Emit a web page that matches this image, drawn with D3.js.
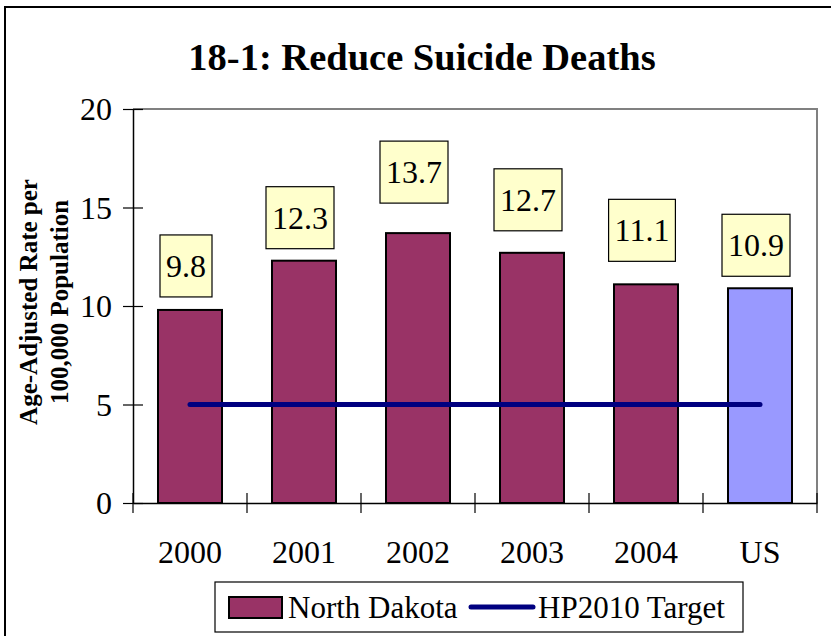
<!DOCTYPE html>
<html><head><meta charset="utf-8">
<script src="https://cdn.jsdelivr.net/npm/d3@7/dist/d3.min.js"></script>
<style>body{margin:0;background:#fff}svg{display:block}svg text{font-family:"Liberation Serif","Times New Roman",Times,serif !important}</style>
</head><body><svg id="c" width="831" height="636" font-family="Liberation Serif"></svg>
<script>
const categories = ["2000","2001","2002","2003","2004","US"];
const rates = [9.8, 12.3, 13.7, 12.7, 11.1, 10.9];
const targetValues = [5, 5, 5, 5, 5, 5];
const yTicks = [0, 5, 10, 15, 20];
const labelGaps = [13, 12, 30, 22, 23, 12];
const titleText = "18-1: Reduce Suicide Deaths";
const yTitleLines = ["Age-Adjusted Rate per", "100,000 Population"];
const legendLabels = ["North Dakota", "HP2010 Target"];

const svg = d3.select("#c");
const M = {left:133, right:817, top:109, bottom:503};
const x = d3.scaleBand().domain(categories).range([M.left, M.right]).paddingInner(50/114).paddingOuter(25/114);
const xc = d3.scalePoint().domain(categories).range([M.left+57, M.right-57]);
const y = d3.scaleLinear().domain([0,20]).range([M.bottom, M.top]);

// outer border
svg.append("rect").attr("x",5).attr("y",7).attr("width",900).attr("height",700)
  .attr("fill","none").attr("stroke","#000").attr("stroke-width",2);

// title
svg.append("text").attr("x",422).attr("y",70).attr("text-anchor","middle")
  .attr("font-size",38.5).attr("font-weight","bold").text(titleText);

// plot frame (top/right gray)
svg.append("path").attr("d",`M${M.left},${M.top}H${M.right}V${M.bottom}`)
  .attr("fill","none").attr("stroke","#808080").attr("stroke-width",2);

// bars
svg.selectAll("rect.bar").data(rates).join("rect").attr("class","bar")
  .attr("x",(d,i)=>x(categories[i])).attr("width",x.bandwidth())
  .attr("y",d=>y(d)).attr("height",d=>y(0)-y(d))
  .attr("fill",(d,i)=>categories[i]==="US"?"#9999FF":"#993366")
  .attr("stroke","#000").attr("stroke-width",2);

// target line
svg.append("path").datum(targetValues)
  .attr("d", d3.line().x((d,i)=>xc(categories[i])).y(d=>y(d)))
  .attr("fill","none").attr("stroke","#000080").attr("stroke-width",5).attr("stroke-linecap","round");

// y axis
const yAxis = svg.append("g").attr("transform",`translate(${M.left},0)`)
  .call(d3.axisLeft(y).tickValues(yTicks).tickSize(10).tickPadding(12).tickSizeOuter(0));
yAxis.attr("font-family",null);
yAxis.select(".domain").attr("stroke","#000").attr("stroke-width",1.5);
yAxis.selectAll(".tick line").attr("x2",10).attr("x1",-10).attr("stroke","#000").attr("stroke-width",1.2);
yAxis.selectAll(".tick text").attr("font-size",32).attr("fill","#000").attr("dy","0.34em").attr("x",-21);

// x axis
const xAxis = svg.append("g").attr("transform",`translate(0,${M.bottom})`)
  .call(d3.axisBottom(x).tickSize(0).tickPadding(0));
xAxis.attr("font-family",null);
xAxis.select(".domain").attr("stroke","#000").attr("stroke-width",1.5);
xAxis.selectAll(".tick text").attr("font-size",32).attr("fill","#000").attr("y",60).attr("dy",0);
const bounds = d3.range(categories.length+1).map(i=>M.left + i*(M.right-M.left)/categories.length);
svg.append("g").selectAll("line").data(bounds).join("line")
  .attr("x1",d=>d).attr("x2",d=>d).attr("y1",M.bottom-10).attr("y2",M.bottom+10)
  .attr("stroke","#000").attr("stroke-width",1.2);

// data labels
const lab = svg.append("g");
rates.forEach((v,i)=>{
  const g = lab.append("g");
  const cx = xc(categories[i]) - 4;
  const bottom = y(v) - labelGaps[i];
  const t = g.append("text").attr("text-anchor","middle").attr("font-size",32).text(v.toFixed(1));
  const w = t.node().getComputedTextLength() + 12;
  const h = 62;
  g.insert("rect","text").attr("x",cx-w/2).attr("y",bottom-h).attr("width",w).attr("height",h)
    .attr("fill","#FFFFCC").attr("stroke","#000").attr("stroke-width",1.2);
  t.attr("x",cx).attr("y",bottom-h/2+11);
});

// y title
const yt = svg.append("text").attr("transform","translate(37,302) rotate(-90)")
  .attr("text-anchor","middle").attr("font-size",25).attr("font-weight","bold");
yTitleLines.forEach((l,i)=>yt.append("tspan").attr("x",0).attr("dy",i?31:0).text(l));

// legend
const lg = svg.append("g");
lg.append("rect").attr("x",215).attr("y",582).attr("width",528).attr("height",50)
  .attr("fill","#fff").attr("stroke","#000").attr("stroke-width",1.2);
lg.append("rect").attr("x",229).attr("y",597).attr("width",53).attr("height",21)
  .attr("fill","#993366").attr("stroke","#000").attr("stroke-width",2);
lg.append("text").attr("x",288).attr("y",618).attr("font-size",31).text(legendLabels[0]);
lg.append("line").attr("x1",471).attr("x2",533).attr("y1",607).attr("y2",607)
  .attr("stroke","#000080").attr("stroke-width",5).attr("stroke-linecap","round");
lg.append("text").attr("x",538).attr("y",618).attr("font-size",31).text(legendLabels[1]);
</script></body></html>
